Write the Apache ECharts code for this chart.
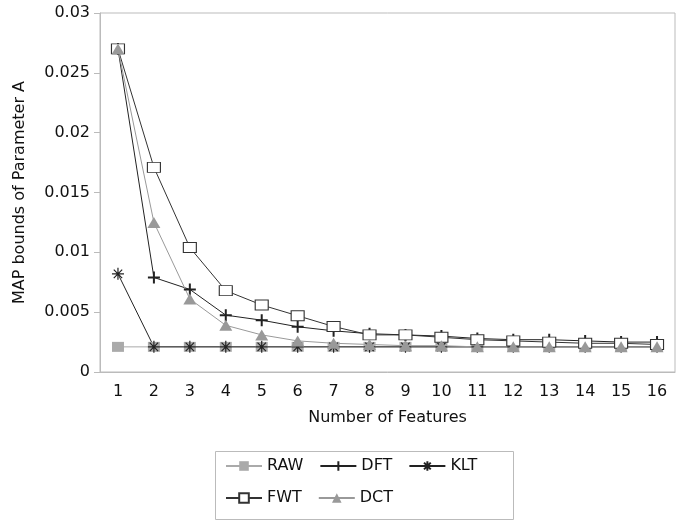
<!DOCTYPE html>
<html>
<head>
<meta charset="utf-8">
<script src="https://cdn.jsdelivr.net/npm/echarts@6/dist/echarts.min.js"></script>
<style>
  html, body { margin: 0; padding: 0; background: #fff; }
  #main { width: 676px; height: 521px; }
</style>
</head>
<body>
<div id="main"></div>
<script>
const features = ['1','2','3','4','5','6','7','8','9','10','11','12','13','14','15','16']

const raw = [0.0021,0.0021,0.0021,0.0021,0.0021,0.0021,0.0021,0.0021,0.0021,0.0021,0.0021,0.0021,0.0021,0.0021,0.0021,0.0021]
const dft = [0.027,0.0079,0.0069,0.00475,0.00433,0.00378,0.00344,0.0032,0.0031,0.003,0.0028,0.0027,0.0027,0.0026,0.0025,0.0025]
const klt = [0.0082,0.0021,0.0021,0.0021,0.0021,0.0021,0.0021,0.0021,0.0021,0.0021,0.0021,0.0021,0.0021,0.0021,0.0021,0.0021]
const fwt = [0.027,0.0171,0.0104,0.0068,0.0056,0.0047,0.0038,0.0031,0.0031,0.0029,0.0027,0.0026,0.0025,0.0024,0.0024,0.0023]
const dct = [0.027,0.0125,0.0061,0.0039,0.0031,0.0026,0.0024,0.0023,0.0022,0.0022,0.0021,0.0021,0.0021,0.0021,0.0021,0.0021]

const font = 'DejaVu Sans'
const plus = 'path://M5,0L5,10M0,5L10,5'
const star = 'path://M5,0L5,10M0,5L10,5M1.5,1.5L8.5,8.5M1.5,8.5L8.5,1.5'

const chart = echarts.init(document.getElementById('main'))

chart.setOption({
    animation: false,
    textStyle: { fontFamily: font },
    grid: { left: 100, right: 1, top: 13, bottom: 149, show: true, borderColor: '#bbb', borderWidth: 1 },
    xAxis: {
        type: 'category',
        data: features,
        boundaryGap: true,
        name: 'Number of Features',
        nameLocation: 'middle',
        nameGap: 38,
        nameTextStyle: { fontSize: 16, color: '#111', fontFamily: font },
        axisLine: { lineStyle: { color: '#bbb' } },
        axisTick: { alignWithLabel: true, length: 6, lineStyle: { color: '#bbb' } },
        axisLabel: { fontSize: 16, color: '#111', margin: 12, fontFamily: font }
    },
    yAxis: {
        type: 'value',
        min: 0,
        max: 0.03,
        interval: 0.005,
        name: 'MAP bounds of Parameter A',
        nameLocation: 'middle',
        nameGap: 72,
        nameTextStyle: { fontSize: 16, color: '#111', fontFamily: font },
        axisLine: { show: true, lineStyle: { color: '#bbb' } },
        axisTick: { show: true, length: 6, lineStyle: { color: '#bbb' } },
        axisLabel: { fontSize: 16, color: '#111', margin: 10, fontFamily: font },
        splitLine: { show: false }
    },
    legend: {
        left: 225,
        top: 458,
        width: 280,
        itemWidth: 36,
        itemHeight: 12,
        itemGap: 16,
        padding: 0,
        textStyle: { fontSize: 16, color: '#111', fontFamily: font },
        data: ['RAW', 'DFT', 'KLT', 'FWT', 'DCT']
    },
    graphic: [{
        type: 'rect',
        shape: { x: 215.5, y: 451.5, width: 298, height: 68 },
        style: { fill: 'none', stroke: '#bbb', lineWidth: 1 }
    }],
    series: [
        {
            name: 'RAW', type: 'line', data: raw,
            symbol: 'rect', symbolSize: [12, 10],
            lineStyle: { color: '#aaa', width: 1 },
            itemStyle: { color: '#aaa' }
        },
        {
            name: 'DFT', type: 'line', data: dft,
            symbol: plus, symbolSize: 12,
            lineStyle: { color: '#222', width: 1 },
            itemStyle: { color: 'transparent', borderColor: '#222', borderWidth: 2 }
        },
        {
            name: 'KLT', type: 'line', data: klt,
            symbol: star, symbolSize: 12,
            lineStyle: { color: '#222', width: 1 },
            itemStyle: { color: 'transparent', borderColor: '#222', borderWidth: 1.2 }
        },
        {
            name: 'FWT', type: 'line', data: fwt,
            symbol: 'rect', symbolSize: [13, 10],
            lineStyle: { color: '#333', width: 1 },
            itemStyle: { color: '#fff', borderColor: '#333', borderWidth: 1 }
        },
        {
            name: 'DCT', type: 'line', data: dct,
            symbol: 'triangle', symbolSize: [13, 11],
            lineStyle: { color: '#999', width: 1 },
            itemStyle: { color: '#999' }
        }
    ]
})
</script>
</body>
</html>
